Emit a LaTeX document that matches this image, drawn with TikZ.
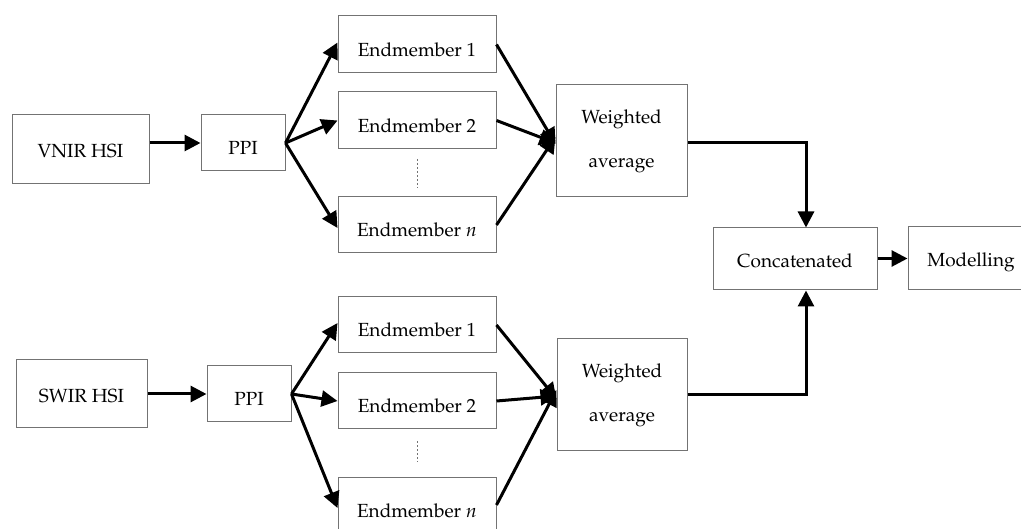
\documentclass[tikz,border=0pt]{standalone}
\usepackage[T1]{fontenc}
\usepackage{mathpazo}
\usetikzlibrary{arrows.meta,calc}
\begin{document}
\begin{tikzpicture}[x=1pt,y=-1pt,
  box/.style={draw=black!55,line width=1pt,fill=white,inner sep=0pt,
    font=\fontsize{19}{44}\selectfont,align=center},
  lo/.style={text height=17pt,text depth=0pt},
  hi/.style={text height=24pt,text depth=0pt},
  conn/.style={line width=3pt,-{Triangle[length=16pt,width=16pt]}},
  dots/.style={draw=black!55,line width=0.7pt,dash pattern=on 2pt off 2pt}]
\clip (0,0) rectangle (1021,529);
\useasboundingbox (0,0) rectangle (1021,529);
% upper branch
\node[box,lo,minimum width=137pt,minimum height=69pt] (vnir) at (80.5,149.5) {VNIR HSI};
\node[box,hi,minimum width=84pt,minimum height=56pt] (ppi1) at (243,143) {PPI};
\node[box,hi,minimum width=158pt,minimum height=57pt] (e11) at (417,44.5) {Endmember 1};
\node[box,hi,minimum width=158pt,minimum height=57pt] (e12) at (417,120.5) {Endmember 2};
\node[box,hi,minimum width=158pt,minimum height=56pt] (e1n) at (417,225) {Endmember $n$};
\node[box,minimum width=131pt,minimum height=112pt] (w1) at (621.5,141) {Weighted\\average};
% right part
\node[box,lo,minimum width=164pt,minimum height=62pt] (cat) at (795,259) {Concatenated};
\node[box,lo,minimum width=126pt,minimum height=63pt] (mod) at (971,258.5) {Modelling};
% lower branch
\node[box,lo,minimum width=131pt,minimum height=68pt] (swir) at (81.5,394) {SWIR HSI};
\node[box,hi,minimum width=84pt,minimum height=56pt] (ppi2) at (249,394) {PPI};
\node[box,hi,minimum width=158pt,minimum height=56pt] (e21) at (417,325) {Endmember 1};
\node[box,hi,minimum width=158pt,minimum height=56pt] (e22) at (417,401) {Endmember 2};
\node[box,hi,minimum width=158pt,minimum height=56pt] (e2n) at (417,505) {Endmember $n$};
\node[box,minimum width=130pt,minimum height=112pt] (w2) at (622,395) {Weighted\\average};
% connectors upper
\draw[conn] (vnir.east |- ppi1.west) -- (ppi1.west);
\draw[conn] (ppi1.east) -- ([yshift=2pt]e11.west);
\draw[conn] (ppi1.east) -- (e12.west);
\draw[conn] (ppi1.east) -- ([yshift=-3pt]e1n.west);
\draw[conn] (e11.east) -- ([yshift=-3pt]w1.west);
\draw[conn] (e12.east) -- ([yshift=-2pt]w1.west);
\draw[conn] (e1n.east) -- ([yshift=4pt]w1.west);
\draw[dots] ($(e12.south)!0.2!(e1n.north)$) -- ($(e12.south)!0.8!(e1n.north)$);
% connectors lower
\draw[conn] (swir.east) -- (ppi2.west);
\draw[conn] (ppi2.east) -- ([yshift=2pt]e21.west);
\draw[conn] (ppi2.east) -- (e22.west);
\draw[conn] (ppi2.east) -- ([yshift=-3pt]e2n.west);
\draw[conn] (e21.east) -- ([yshift=-4pt]w2.west);
\draw[conn] (e22.east) -- ([yshift=-1pt]w2.west);
\draw[conn] (e2n.east) -- ([yshift=5pt]w2.west);
\draw[dots] ($(e22.south)!0.25!(e2n.north)$) -- ($(e22.south)!0.7!(e2n.north)$);
% to concatenated
\draw[conn] ([yshift=-2pt]w1.east) -| ([xshift=11pt]cat.north);
\draw[conn] (w2.east) -| ([xshift=11pt]cat.south);
\draw[conn] (cat.east |- mod.west) -- (mod.west);
\end{tikzpicture}
\end{document}
